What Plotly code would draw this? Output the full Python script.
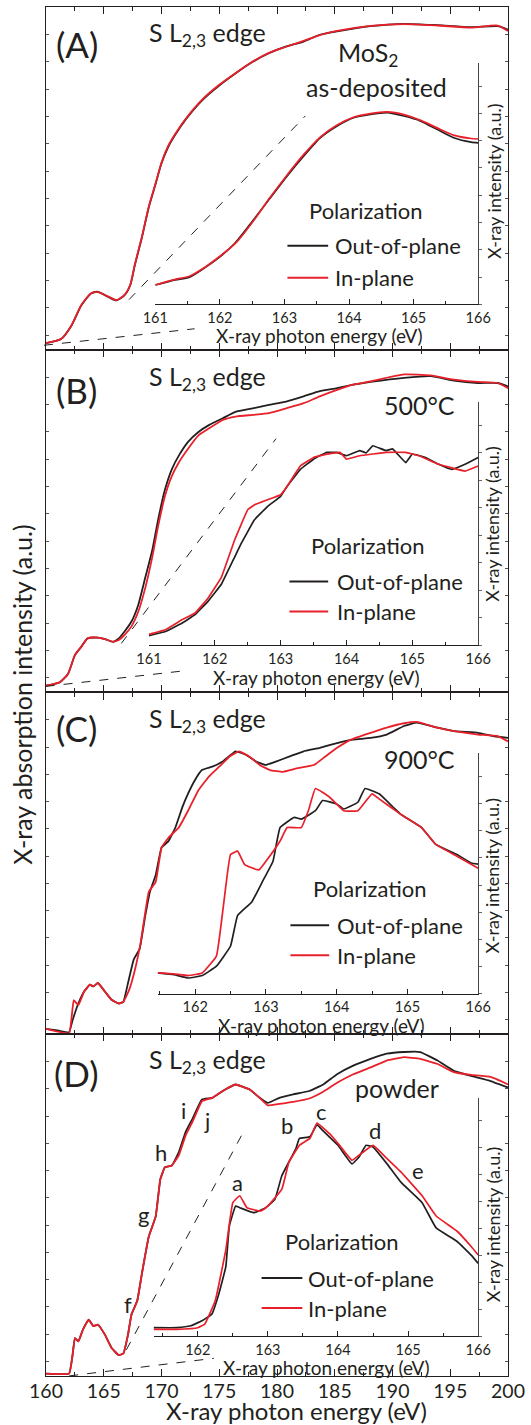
import plotly.graph_objects as go

# ---------------- data (eV, normalized intensity) ----------------
A_x = [160, 161.3, 162.2, 163.05, 163.9, 164.5, 165.4, 166.1, 166.8, 167.3, 167.7, 168.3, 168.9, 169.5, 170.0,
       170.6, 171.2, 172.1, 173.5, 175.0, 176.4, 177.9, 179.3, 180.8, 182.3, 183.7, 185.2, 188.1, 191.0, 193.9,
       196.8, 199.1, 200]
A_black = [0.019, 0.031, 0.070, 0.129, 0.164, 0.169, 0.154, 0.144, 0.159, 0.189, 0.248, 0.327, 0.416, 0.485, 0.544,
           0.593, 0.628, 0.672, 0.727, 0.771, 0.806, 0.840, 0.865, 0.885, 0.899, 0.919, 0.929, 0.944, 0.951, 0.947,
           0.941, 0.944, 0.934]
A_red = [0.019, 0.031, 0.071, 0.130, 0.165, 0.168, 0.155, 0.145, 0.160, 0.190, 0.250, 0.329, 0.418, 0.487, 0.546,
         0.596, 0.630, 0.674, 0.729, 0.773, 0.807, 0.841, 0.866, 0.884, 0.901, 0.918, 0.930, 0.945, 0.950, 0.946,
         0.940, 0.946, 0.930]

B_x = [160, 161.2, 161.9, 162.5, 163.05, 163.6, 164.5, 165.1, 165.8, 166.3, 166.8, 167.4, 168.0, 168.6, 169.2,
       169.7, 170.3, 170.9, 171.5, 172.3, 173.2, 174.1, 175.3, 176.4, 177.9, 179.3, 180.8, 182.3, 183.7, 185.2,
       186.6, 188.1, 191.0, 193.3, 195.3, 197.4, 199.1, 200]
B_black = [0.020, 0.030, 0.054, 0.109, 0.133, 0.158, 0.160, 0.156, 0.148, 0.158, 0.178, 0.207, 0.257, 0.336, 0.415,
           0.503, 0.592, 0.652, 0.691, 0.731, 0.760, 0.780, 0.800, 0.819, 0.829, 0.839, 0.849, 0.864, 0.879, 0.888,
           0.898, 0.906, 0.918, 0.923, 0.910, 0.903, 0.903, 0.893]
B_red = [0.020, 0.030, 0.054, 0.109, 0.133, 0.158, 0.160, 0.156, 0.148, 0.153, 0.168, 0.193, 0.237, 0.306, 0.395,
         0.484, 0.573, 0.632, 0.671, 0.711, 0.750, 0.770, 0.795, 0.805, 0.810, 0.815, 0.829, 0.844, 0.864, 0.883,
         0.898, 0.908, 0.928, 0.925, 0.913, 0.906, 0.903, 0.888]

C_black_x = [160, 161.0, 162.0, 162.3, 162.8, 163.3, 163.8, 164.1, 164.5, 165.1, 165.7, 166.3, 166.7, 167.1, 167.6,
             168.1, 168.6, 169.0, 169.5, 170.0, 170.6, 171.2, 171.8, 172.3, 172.9, 173.5, 174.4, 175.3, 176.4, 177.3,
             178.2, 179.0, 179.9, 181.1, 182.3, 183.7, 185.2, 186.6, 188.1, 189.5, 191.0, 192.1, 193.9, 195.3, 197.4,
             198.8, 200]
C_black = [0.016, 0.011, 0.006, 0.041, 0.090, 0.125, 0.145, 0.140, 0.150, 0.125, 0.100, 0.090, 0.095, 0.150, 0.219,
           0.249, 0.348, 0.417, 0.466, 0.546, 0.565, 0.605, 0.664, 0.704, 0.744, 0.773, 0.783, 0.798, 0.828, 0.818,
           0.798, 0.788, 0.798, 0.813, 0.828, 0.838, 0.852, 0.862, 0.867, 0.877, 0.902, 0.912, 0.897, 0.887, 0.882,
           0.872, 0.867]
C_red_x = [160, 162.0, 162.4, 162.8, 163.3, 163.8, 164.1, 164.5, 165.1, 165.7, 166.3, 166.7, 167.2, 167.7, 168.2,
           168.9, 169.5, 170.0, 170.6, 171.5, 172.3, 173.2, 174.1, 175.0, 175.9, 176.7, 177.6, 178.5, 179.4, 180.5,
           181.7, 183.2, 184.0, 185.2, 186.4, 188.1, 189.5, 191.0, 192.1, 193.9, 195.3, 197.4, 199.1, 200]
C_red = [0.016, 0.003, 0.100, 0.085, 0.125, 0.145, 0.140, 0.150, 0.125, 0.100, 0.090, 0.095, 0.130, 0.189, 0.269,
         0.417, 0.446, 0.546, 0.575, 0.605, 0.654, 0.714, 0.754, 0.783, 0.813, 0.828, 0.813, 0.788, 0.773, 0.768,
         0.778, 0.788, 0.808, 0.838, 0.862, 0.882, 0.897, 0.910, 0.914, 0.897, 0.887, 0.877, 0.872, 0.857]

D_x = [160, 162.0, 162.3, 162.5, 162.8, 163.2, 163.7, 164.1, 164.5, 165.1, 165.7, 166.3, 166.7, 167.1, 167.4,
       167.9, 168.3, 168.9, 169.5, 169.9, 170.3, 170.9, 171.5, 172.1, 172.7, 173.5, 174.4, 175.3, 176.4, 177.6,
       178.5, 179.2, 180.2, 181.4, 182.8, 184.0, 185.2, 186.6, 188.1, 189.5, 191.0, 192.4, 193.9, 195.3, 196.8,
       198.5, 200]
D_black = [0.007, 0.007, 0.061, 0.111, 0.101, 0.136, 0.165, 0.146, 0.150, 0.121, 0.081, 0.061, 0.066, 0.121, 0.180,
           0.220, 0.299, 0.408, 0.467, 0.576, 0.611, 0.616, 0.655, 0.715, 0.754, 0.809, 0.814, 0.834, 0.853, 0.839,
           0.814, 0.799, 0.814, 0.824, 0.834, 0.853, 0.883, 0.908, 0.928, 0.943, 0.948, 0.948, 0.923, 0.893, 0.878,
           0.863, 0.844]
D_red = [0.007, 0.007, 0.061, 0.111, 0.101, 0.136, 0.165, 0.146, 0.150, 0.121, 0.081, 0.061, 0.066, 0.121, 0.180,
         0.220, 0.299, 0.408, 0.467, 0.576, 0.611, 0.616, 0.646, 0.705, 0.745, 0.804, 0.814, 0.834, 0.853, 0.839,
         0.814, 0.792, 0.796, 0.802, 0.812, 0.832, 0.858, 0.883, 0.903, 0.923, 0.933, 0.928, 0.913, 0.889, 0.881,
         0.875, 0.853]

# insets
IA_x = [161.0, 161.31, 161.52, 161.72, 161.98, 162.24, 162.51, 162.77, 163.03, 163.29, 163.55, 163.81, 164.07,
        164.33, 164.59, 164.85, 165.11, 165.37, 165.63, 165.89, 166.0]
IA_black = [0.080, 0.101, 0.111, 0.143, 0.192, 0.255, 0.346, 0.437, 0.528, 0.612, 0.689, 0.738, 0.773, 0.787,
            0.794, 0.780, 0.759, 0.724, 0.689, 0.672, 0.669]
IA_red = [0.080, 0.103, 0.115, 0.145, 0.195, 0.252, 0.342, 0.440, 0.532, 0.618, 0.692, 0.742, 0.775, 0.790,
          0.797, 0.786, 0.762, 0.730, 0.700, 0.687, 0.685]

IB_black_x = [161.0, 161.25, 161.5, 161.7, 161.9, 162.1, 162.3, 162.4, 162.6, 162.8, 163.0, 163.1, 163.3, 163.5,
              163.7, 163.85, 164.0, 164.2, 164.3, 164.4, 164.6, 164.7, 164.9, 165.0, 165.2, 165.4, 165.6, 165.8, 166.0]
IB_black = [0.039, 0.056, 0.090, 0.125, 0.181, 0.250, 0.361, 0.417, 0.514, 0.569, 0.611, 0.653, 0.722, 0.764,
            0.792, 0.792, 0.778, 0.799, 0.790, 0.819, 0.799, 0.806, 0.750, 0.785, 0.771, 0.743, 0.722, 0.743, 0.771]
IB_red_x = [161.0, 161.25, 161.5, 161.7, 161.9, 162.1, 162.3, 162.5, 162.6, 162.8, 163.0, 163.1, 163.3, 163.5,
            163.7, 163.9, 164.0, 164.2, 164.6, 164.9, 165.1, 165.4, 165.8, 166.0]
IB_red = [0.044, 0.063, 0.104, 0.132, 0.194, 0.278, 0.431, 0.556, 0.576, 0.597, 0.618, 0.653, 0.736, 0.771,
          0.785, 0.792, 0.764, 0.778, 0.792, 0.792, 0.778, 0.743, 0.715, 0.736]

IC_black_x = [161.47, 161.7, 161.9, 162.1, 162.3, 162.5, 162.6, 162.8, 162.95, 163.1, 163.2, 163.4, 163.5, 163.7,
              163.8, 164.0, 164.1, 164.3, 164.4, 164.6, 164.8, 164.9, 165.2, 165.4, 165.7, 165.9, 166.0]
IC_black = [0.087, 0.080, 0.066, 0.076, 0.115, 0.199, 0.326, 0.382, 0.466, 0.551, 0.691, 0.733, 0.726, 0.761,
            0.803, 0.789, 0.768, 0.796, 0.853, 0.831, 0.775, 0.747, 0.691, 0.621, 0.579, 0.544, 0.539]
IC_red_x = [161.47, 161.7, 161.9, 162.1, 162.3, 162.4, 162.5, 162.6, 162.7, 162.9, 163.0, 163.2, 163.3, 163.5,
            163.6, 163.7, 163.9, 164.1, 164.3, 164.5, 164.6, 164.8, 164.9, 165.2, 165.4, 165.7, 166.0]
IC_red = [0.087, 0.083, 0.076, 0.087, 0.157, 0.368, 0.579, 0.593, 0.537, 0.515, 0.551, 0.635, 0.691, 0.691,
          0.761, 0.853, 0.817, 0.761, 0.761, 0.831, 0.810, 0.768, 0.747, 0.691, 0.621, 0.572, 0.522]

ID_black_x = [161.37, 161.7, 161.9, 162.06, 162.2, 162.3, 162.4, 162.45, 162.54, 162.6, 162.8, 162.97, 163.1, 163.2,
              163.4, 163.45, 163.6, 163.7, 163.8, 164.0, 164.2, 164.3, 164.4, 164.5, 164.7, 164.9, 165.2, 165.4,
              165.7, 165.9, 166.0]
ID_black = [0.035, 0.035, 0.043, 0.064, 0.092, 0.177, 0.291, 0.461, 0.546, 0.539, 0.518, 0.539, 0.574, 0.674,
            0.787, 0.830, 0.837, 0.887, 0.858, 0.801, 0.723, 0.752, 0.801, 0.794, 0.723, 0.645, 0.560, 0.454,
            0.397, 0.340, 0.305]
ID_red_x = [161.37, 161.7, 162.0, 162.1, 162.25, 162.4, 162.5, 162.6, 162.7, 162.9, 163.0, 163.2, 163.3, 163.45,
            163.6, 163.7, 163.9, 164.0, 164.2, 164.3, 164.5, 164.7, 164.9, 165.2, 165.4, 165.7, 165.9, 166.0]
ID_red = [0.028, 0.028, 0.035, 0.050, 0.149, 0.362, 0.560, 0.589, 0.539, 0.525, 0.546, 0.617, 0.730, 0.801,
          0.830, 0.894, 0.844, 0.809, 0.738, 0.759, 0.801, 0.745, 0.688, 0.589, 0.504, 0.440, 0.376, 0.340]

panel_labels = ["(A)", "(B)", "(C)", "(D)"]
sample_labels = ["MoS<sub>2</sub>", "500°C", "900°C", "powder"]
series_names = ["Out-of-plane", "In-plane"]
main_xticks = [160, 165, 170, 175, 180, 185, 190, 195, 200]

# ---------------- styling / layout helpers ----------------
BLACK = "#231F20"
RED = "#E8202A"
FONT = "Lato, 'Open Sans', sans-serif"
L, R, T, B = 46, 511, 6, 1376
W, H = R - L, B - T


def px(x):
    return (x - L) / W


def py(y):
    return (B - y) / H


fig = go.Figure()

main_sets = [
    (A_x, A_black, A_x, A_red, 0.6),
    (B_x, B_black, B_x, B_red, 0.5),
    (C_black_x, C_black, C_red_x, C_red, 0.3),
    (D_x, D_black, D_x, D_red, 0.3),
]
inset_sets = [
    (IA_x, IA_black, IA_x, IA_red, 0.6),
    (IB_black_x, IB_black, IB_red_x, IB_red, 0.2),
    (IC_black_x, IC_black, IC_red_x, IC_red, 0.3),
    (ID_black_x, ID_black, ID_red_x, ID_red, 0.3),
]

for i, (bx, by, rx, ry, sm) in enumerate(main_sets):
    ax = "" if i == 0 else str(i + 1)
    fig.add_trace(go.Scatter(x=bx, y=by, mode="lines", line=dict(color=BLACK, width=1.8, shape="spline", smoothing=sm),
                             xaxis="x" + ax, yaxis="y" + ax, name=series_names[0], showlegend=False))
    fig.add_trace(go.Scatter(x=rx, y=ry, mode="lines", line=dict(color=RED, width=1.8, shape="spline", smoothing=sm),
                             xaxis="x" + ax, yaxis="y" + ax, name=series_names[1], showlegend=False))

for i, (bx, by, rx, ry, sm) in enumerate(inset_sets):
    ax = str(i + 5)
    fig.add_trace(go.Scatter(x=bx, y=by, mode="lines", line=dict(color=BLACK, width=1.7, shape="spline", smoothing=sm),
                             xaxis="x" + ax, yaxis="y" + ax, name=series_names[0], showlegend=False))
    fig.add_trace(go.Scatter(x=rx, y=ry, mode="lines", line=dict(color=RED, width=1.7, shape="spline", smoothing=sm),
                             xaxis="x" + ax, yaxis="y" + ax, name=series_names[1], showlegend=False))

panel_px = [(6, 349), (349, 692), (692, 1034), (1034, 1376)]
layout = dict(
    width=531, height=1425,
    margin=dict(l=L, r=531 - R, t=T, b=1425 - B, pad=0),
    paper_bgcolor="white", plot_bgcolor="rgba(0,0,0,0)",
    font=dict(family=FONT, color=BLACK),
    showlegend=False,
)

for i, (top, bot) in enumerate(panel_px):
    ax = "" if i == 0 else str(i + 1)
    layout["xaxis" + ax] = dict(
        domain=[0, 1], range=[160, 200], anchor="y" + ax,
        showline=True, linecolor=BLACK, linewidth=1.3, mirror="ticks",
        ticks="inside", ticklen=7, tickwidth=1, tickcolor=BLACK,
        tickvals=main_xticks,
        minor=dict(ticks="inside", ticklen=4, dtick=2.5, tick0=160, tickcolor=BLACK),
        showticklabels=(i == 3), tickfont=dict(size=19.5, family=FONT, color=BLACK),
        showgrid=False, zeroline=False, fixedrange=True,
    )
    layout["yaxis" + ax] = dict(
        domain=[py(bot), py(top)], range=[0, 1], anchor="x" + ax,
        showline=True, linecolor=BLACK, linewidth=1.3, mirror="ticks",
        ticks="inside", ticklen=3, tickwidth=1, tickcolor="#555",
        tick0=0.043, dtick=0.0797, showticklabels=False,
        showgrid=False, zeroline=False,
    )

# inset geometry (pixel extents)
inset_geom = [
    (156, 481, 62, 303.5, [161, 166]),
    (149.6, 481, 401, 644.6, [161, 166]),
    (158.4, 481, 752.7, 993.6, [161.47, 166]),
    (154.3, 481, 1097.7, 1336, [161.37, 166]),
]
for i, (x0, x1, y0, y1, rng) in enumerate(inset_geom):
    ax = str(i + 5)
    layout["xaxis" + ax] = dict(
        domain=[px(x0), px(x1)], range=rng, anchor="y" + ax,
        showline=True, linecolor=BLACK, linewidth=1.2,
        ticks="inside", ticklen=5, tickwidth=1, tickcolor=BLACK, dtick=1, tick0=161,
        minor=dict(ticks="inside", ticklen=3, dtick=0.5, tick0=161, tickcolor=BLACK),
        tickfont=dict(size=14.5, family=FONT, color=BLACK),
        showgrid=False, zeroline=False,
    )
    layout["yaxis" + ax] = dict(
        domain=[py(y1), py(y0)], range=[0, 1], anchor="x" + ax, side="right",
        showline=True, linecolor="#444", linewidth=1.2,
        ticks="outside", ticklen=3, tickwidth=1, tickcolor="#666", dtick=0.113,
        showticklabels=False, showgrid=False, zeroline=False,
    )

annotations = []


def ann(text, x, y, size, xanchor="center", yanchor="middle", angle=0):
    annotations.append(dict(text=text, x=px(x), y=py(y), xref="paper", yref="paper",
                            xanchor=xanchor, yanchor=yanchor, textangle=angle, showarrow=False,
                            font=dict(size=size, family=FONT, color=BLACK)))


shapes = []


def seg(x0, y0, x1, y1, color=BLACK, width=1, dash="dash"):
    shapes.append(dict(type="line", xref="paper", yref="paper", x0=px(x0), y0=py(y0), x1=px(x1), y1=py(y1),
                       line=dict(color=color, width=width, dash=dash)))


# panel labels, edge labels
label_y = [43, 389, 728, 1073]
edge_y = [33, 377, 720, 1061]
for i in range(4):
    ann(panel_labels[i], 77, label_y[i], 35)
    ann("S L<sub>2,3</sub> edge", 148, edge_y[i], 25, xanchor="left")

# sample labels
ann(sample_labels[0], 370, 53, 25)
ann("as-deposited", 379, 86, 25)
ann(sample_labels[1], 422, 404, 25)
ann(sample_labels[2], 422, 759, 25)
ann(sample_labels[3], 399, 1088, 25)

# legends (manual)
leg = [
    (368, 210, 289, 330, 335, 245, 277),
    (370, 545, 291, 330, 337, 581, 611),
    (372, 888, 292, 331, 337, 925, 955),
    (344, 1241, 263, 304, 308, 1278, 1308),
]
for (tx, ty, lx0, lx1, txl, yb, yr) in leg:
    ann("Polarization", tx, ty, 22)
    seg(lx0, yb, lx1, yb, BLACK, 2, "solid")
    seg(lx0, yr, lx1, yr, RED, 2, "solid")
    ann(series_names[0], txl, yb, 22, xanchor="left")
    ann(series_names[1], txl, yr, 22, xanchor="left")

# inset axis titles
inset_xt = [(321, 335), (318, 677), (323, 1025), (328, 1367)]
inset_yt = [(497, 181), (495, 524), (495, 876), (496, 1225)]
for (x, y) in inset_xt:
    ann("X-ray photon energy (eV)", x, y, 19)
for (x, y) in inset_yt:
    ann("X-ray intensity (a.u.)", x, y, 18, angle=-90)

# peak letters in (D)
letters = [("a", 238.6, 1182), ("b", 289, 1125), ("c", 323, 1111), ("d", 377, 1130), ("e", 420, 1170),
           ("f", 128.6, 1304), ("g", 144, 1214), ("h", 162, 1152), ("i", 184, 1110), ("j", 208, 1120)]
for t, x, y in letters:
    ann(t, x, y, 22)

# main axis titles
ann("X-ray photon energy (eV)", 298, 1410.5, 24)
ann("X-ray absorption intensity (a.u.)", 22, 694, 25, angle=-90)

# zoom guide dashed lines
seg(129.6, 298.8, 307, 115)
seg(44, 344.5, 195.6, 328)
seg(121.8, 642.9, 277.5, 438)
seg(45.7, 685.9, 187.8, 670)
seg(126.9, 1349.8, 243, 1134.9)
seg(69.4, 1375.9, 214.9, 1358.3)

layout["annotations"] = annotations
layout["shapes"] = shapes
fig.update_layout(**layout)

# pull the bottom tick labels slightly closer to the axis, as in the reference
try:
    fig.update_layout(xaxis4=dict(ticklabelstandoff=-3))
except Exception:
    pass

fig.write_html("out.html")
